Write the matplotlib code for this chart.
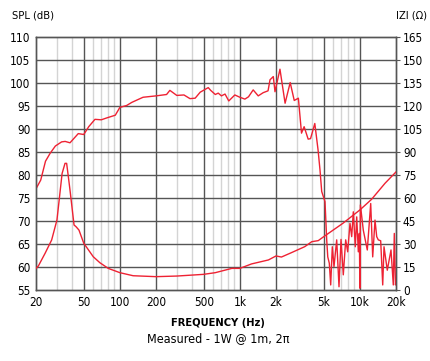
import matplotlib.pyplot as plt
import numpy as np

# SPL response (Hz, dB)
spl_freq = [20, 21.9, 24, 26.2, 29, 32.7, 35, 38.4, 45, 50, 55, 62, 70, 77.5, 91.6,
            100, 113.6, 126, 156, 200, 245, 261, 298, 342, 384, 424, 467, 545, 571,
            624, 660, 702, 752, 808, 908, 1000, 1101, 1180, 1291, 1422, 1565, 1717,
            1783, 1899, 1962, 2158, 2381, 2626, 2838, 3072, 3263, 3431, 3707, 3880,
            4211, 4485, 4652, 4808, 5122, 5292, 5400, 5563, 5713, 5892, 6087, 6410,
            6699, 6963, 7276, 7618, 7916, 8272, 8546, 8817, 9160, 9412, 9704, 9900,
            10000, 10100, 10680, 11530, 12310, 12790, 13370, 13810, 14240, 14910,
            15500, 15890, 16920, 18170, 18990, 19360, 19800, 20000]
spl_db = [77, 78.9, 83, 84.7, 86.3, 87.2, 87.3, 87.0, 89, 88.8, 90.5, 92.1, 92, 92.4, 93,
          94.7, 95.1, 95.8, 96.9, 97.2, 97.5, 98.4, 97.3, 97.4, 96.6, 96.7, 98.0, 99.0, 98.4,
          97.5, 97.8, 97.2, 97.6, 96.1, 97.4, 96.9, 96.5, 97, 98.5, 97.2, 97.9, 98.3,
          100.7, 101.4, 98.1, 103, 95.6, 100.1, 96.2, 96.7, 89.1, 90.5, 87.8, 87.9,
          91.2, 85.4, 81.1, 76.4, 74.2, 65.9, 62.2, 60.8, 56.1, 64.4, 60.1, 65.9,
          55.7, 66.0, 58.3, 65.9, 63.3, 69.5, 66.6, 72.0, 64.4, 70.9, 63.3, 67.3,
          55.4, 73.5, 68.0, 63.7, 73.8, 62.2, 70.2, 66.6, 65.9, 65.7,
          56.1, 64.4, 59.3, 63.7, 56.1, 67.3, 56.1, 57]

# impedance (Hz, ohm)
imp_freq = [20, 20.9, 23.8, 27, 29.9, 31.2, 33, 34.9, 36, 37.2, 38.4, 41.5, 43.1, 45.6,
            50, 60, 68.1, 80, 100, 129, 200, 298, 497, 624, 857, 1000, 1250, 1730,
            2000, 2220, 2680, 3480, 3970, 4500, 5000, 7220, 10000, 12500, 16200, 20000]
imp_ohm = [14.1, 15.6, 23.9, 32.6, 45.7, 58.7, 76, 82.6, 82.6, 73.9, 65.2, 42.4, 41.3, 39.1,
           30.5, 21.7, 17.8, 14.1, 11.3, 9.3, 8.7, 9.1, 10.2, 11.3, 14.1, 14.1, 17, 19.6,
           22.2, 21.5, 24.3, 28.3, 31.5, 32.2, 34.8, 43.5, 52.2, 59.1, 69.6, 77]

xticks = [20, 50, 100, 200, 500, 1000, 2000, 5000, 10000, 20000]
xlabels = ['20', '50', '100', '200', '500', '1k', '2k', '5k', '10k', '20k']
minor = [30, 40, 60, 70, 80, 90, 300, 400, 600, 700, 800, 900,
         3000, 4000, 6000, 7000, 8000, 9000]

plt.rcParams['font.family'] = ['DejaVu Sans']
plt.rcParams['font.stretch'] = 'condensed'
red = '#ee2233'

fig = plt.figure(figsize=(4.3, 3.61), dpi=100)
ax = fig.add_axes([36/430, 71/361, 360/430, 253/361])
ax.set_xscale('log')
ax.set_xlim(20, 20000)
ax.set_ylim(55, 110)

for m in minor:
    ax.axvline(m, color='#d4d4d4', lw=1.0, zorder=1)
for t in xticks[1:-1]:
    ax.axvline(t, color='#555555', lw=1.0, zorder=2)
for y in range(60, 110, 5):
    ax.axhline(y, color='#555555', lw=1.0, zorder=2)

ax.plot(spl_freq, spl_db, color=red, lw=1.0, zorder=3)

ax.set_xticks(xticks)
ax.set_xticklabels(xlabels)
ax.xaxis.set_minor_locator(plt.NullLocator())
ax.set_yticks(range(55, 111, 5))
ax.tick_params(length=0, labelsize=8.5, pad=4)

ax2 = ax.twinx()
ax2.set_ylim(0, 165)
ax2.set_yticks(range(0, 166, 15))
ax2.tick_params(length=3, labelsize=8.5, pad=2, color='#555555')
ax2.plot(imp_freq, imp_ohm, color=red, lw=1.0, zorder=3)

for a in (ax, ax2):
    for s in a.spines.values():
        s.set_color('#555555')
        s.set_linewidth(1.0)

fig.text(12/430, 1 - 15/361, 'SPL (dB)', fontsize=8, va='center')
fig.text(396/430, 1 - 15/361, 'IZI (\u03a9)', fontsize=8, va='center')
fig.text(218/430, 1 - 323/361, 'FREQUENCY (Hz)', fontsize=8, ha='center', va='center',
         fontweight='bold')
fig.text(218/430, 1 - 339/361, 'Measured - 1W @ 1m, 2\u03c0', fontsize=9, ha='center', va='center')

fig.savefig('out.png', dpi=100)
